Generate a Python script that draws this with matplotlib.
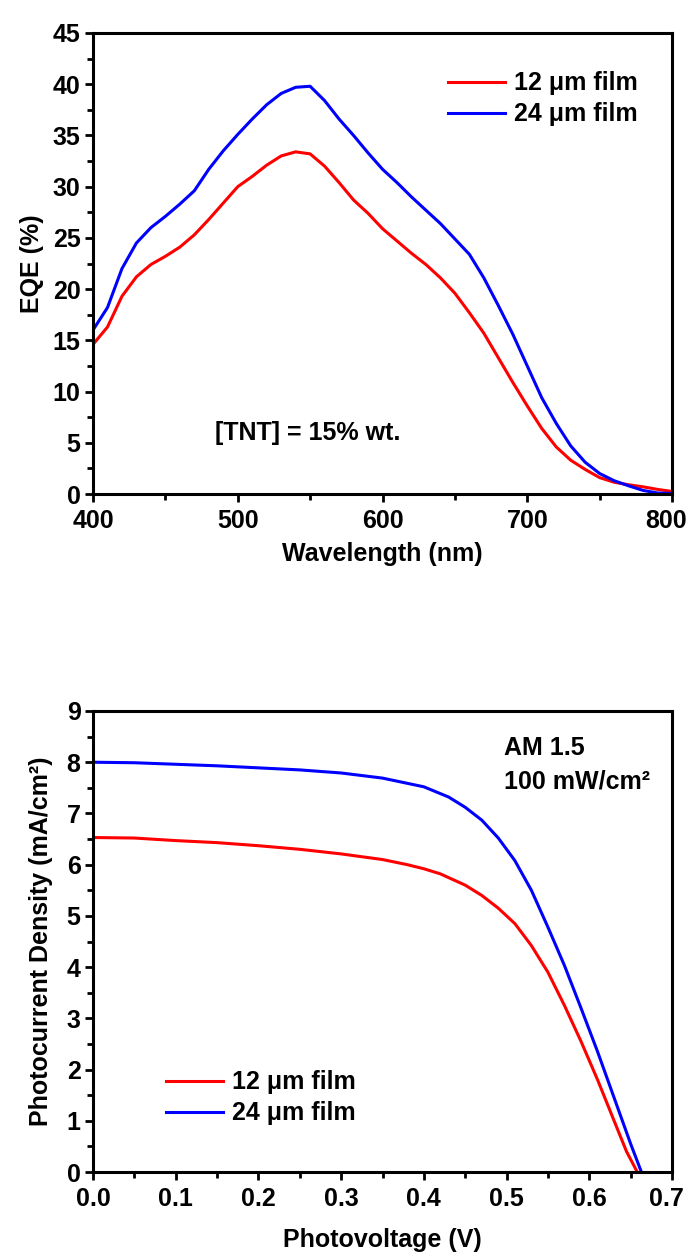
import matplotlib
matplotlib.use("Agg")
import matplotlib.pyplot as plt
from matplotlib.ticker import MultipleLocator
from matplotlib.transforms import ScaledTranslation

plt.rcParams['font.family'] = ['Liberation Sans', 'DejaVu Sans']
plt.rcParams['font.weight'] = 'bold'

# EQE spectra
wavelength = [400, 410, 420, 430, 440, 450, 460, 470, 480, 490, 500,
              510, 520, 530, 540, 550, 560, 570, 580, 590, 600,
              610, 620, 630, 640, 650, 660, 670, 680, 690, 700,
              710, 720, 730, 740, 750, 760, 770, 780, 790, 800]
eqe_12 = [14.6, 16.3, 19.3, 21.2, 22.4, 23.2, 24.1, 25.3, 26.8, 28.4, 30.0,
          31.0, 32.1, 33.0, 33.4, 33.2, 32.0, 30.4, 28.7, 27.4, 25.9,
          24.7, 23.5, 22.4, 21.1, 19.6, 17.7, 15.7, 13.3, 10.9, 8.6,
          6.4, 4.6, 3.3, 2.4, 1.6, 1.15, 0.9, 0.7, 0.45, 0.25]
eqe_24 = [16.0, 18.2, 22.0, 24.5, 26.0, 27.1, 28.3, 29.6, 31.7, 33.5, 35.1,
          36.6, 38.0, 39.1, 39.7, 39.8, 38.4, 36.6, 35.0, 33.3, 31.7,
          30.4, 29.0, 27.7, 26.4, 24.9, 23.4, 21.1, 18.4, 15.6, 12.5,
          9.4, 6.9, 4.7, 3.1, 2.0, 1.3, 0.8, 0.35, 0.1, 0.05]

# J-V curves
v_12 = [0.00, 0.05, 0.10, 0.15, 0.20, 0.25, 0.30, 0.35, 0.38, 0.40, 0.42,
        0.45, 0.47, 0.49, 0.51, 0.53, 0.55, 0.57, 0.59, 0.61, 0.63, 0.645, 0.658]
j_12 = [6.53, 6.52, 6.47, 6.43, 6.37, 6.30, 6.21, 6.10, 6.00, 5.92, 5.82,
        5.60, 5.40, 5.15, 4.85, 4.42, 3.90, 3.25, 2.55, 1.80, 1.00, 0.40, 0.0]
v_24 = [0.00, 0.05, 0.10, 0.15, 0.20, 0.25, 0.30, 0.35, 0.40, 0.43, 0.45,
        0.47, 0.49, 0.51, 0.53, 0.55, 0.57, 0.59, 0.61, 0.63, 0.65, 0.663]
j_24 = [8.00, 7.99, 7.96, 7.93, 7.89, 7.85, 7.79, 7.69, 7.52, 7.32, 7.12,
        6.87, 6.52, 6.08, 5.50, 4.78, 4.03, 3.20, 2.35, 1.45, 0.55, 0.0]

labels = ['12 \u03bcm film', '24 \u03bcm film']
colors = ['#ff0000', '#0000ff']
FS = 18

W, H = 689, 1254
fig = plt.figure(figsize=(W / 100, H / 100), dpi=100)
ax1 = fig.add_axes([93 / W, 1 - 494 / H, 579 / W, 461 / H])
ax2 = fig.add_axes([93 / W, 1 - 1172 / H, 579 / W, 461 / H])


def style(ax):
    for s in ax.spines.values():
        s.set_linewidth(2.2)
    ax.tick_params(which='both', direction='out', width=2.0, top=False,
                   right=False, labelsize=FS)
    ax.tick_params(axis='x', pad=5)
    ax.tick_params(axis='y', pad=3)
    ax.tick_params(which='major', length=6)
    ax.tick_params(which='minor', length=4)
    for t in ax.get_xticklabels() + ax.get_yticklabels():
        t.set_fontweight('bold')


def add_legend(ax, anchor):
    ax.legend(loc='center left', bbox_to_anchor=anchor, frameon=False,
              fontsize=FS, handlelength=2.3, handletextpad=0.35,
              labelspacing=0.28, borderpad=0, borderaxespad=0)


def nudge_last_xlabel(ax, dx_px=-5):
    # keep the right-most tick label inside the figure
    xmax = ax.get_xlim()[1]
    off = ScaledTranslation(dx_px / 100, 0, fig.dpi_scale_trans)
    for tick in ax.xaxis.get_major_ticks():
        if abs(tick.get_loc() - xmax) < 1e-9:
            tick.label1.set_transform(tick.label1.get_transform() + off)


ax1.plot(wavelength, eqe_12, color=colors[0], lw=2.2, label=labels[0])
ax1.plot(wavelength, eqe_24, color=colors[1], lw=2.2, label=labels[1])
ax1.set_xlim(400, 800)
ax1.set_ylim(0, 45)
ax1.xaxis.set_major_locator(MultipleLocator(100))
ax1.xaxis.set_minor_locator(MultipleLocator(50))
ax1.yaxis.set_major_locator(MultipleLocator(5))
ax1.yaxis.set_minor_locator(MultipleLocator(2.5))
style(ax1)
ax1.set_xlabel('Wavelength (nm)', fontsize=FS, fontweight='bold', labelpad=6)
ax1.set_ylabel('EQE (%)', fontsize=FS, fontweight='bold', labelpad=6)
add_legend(ax1, (0.613, 0.857))
ax1.text(484, 6.0, '[TNT] = 15% wt.', fontsize=FS, fontweight='bold',
         ha='left', va='center')

ax2.plot(v_12, j_12, color=colors[0], lw=2.2, label=labels[0])
ax2.plot(v_24, j_24, color=colors[1], lw=2.2, label=labels[1])
ax2.set_xlim(0, 0.7)
ax2.set_ylim(0, 9)
ax2.xaxis.set_major_locator(MultipleLocator(0.1))
ax2.xaxis.set_minor_locator(MultipleLocator(0.05))
ax2.yaxis.set_major_locator(MultipleLocator(1))
ax2.yaxis.set_minor_locator(MultipleLocator(0.5))
ax2.xaxis.set_major_formatter(plt.FormatStrFormatter('%.1f'))
ax2.yaxis.set_major_formatter(plt.FormatStrFormatter('%d'))
style(ax2)
ax2.set_xlabel('Photovoltage (V)', fontsize=FS, fontweight='bold', labelpad=12)
ax2.set_ylabel('Photocurrent Density (mA/cm\u00b2)', fontsize=FS,
               fontweight='bold', labelpad=10)
add_legend(ax2, (0.126, 0.161))
ax2.text(0.497, 8.27, 'AM 1.5', fontsize=FS, fontweight='bold',
         ha='left', va='center')
ax2.text(0.497, 7.62, '100 mW/cm\u00b2', fontsize=FS, fontweight='bold',
         ha='left', va='center')

fig.canvas.draw()
nudge_last_xlabel(ax1, -6)
nudge_last_xlabel(ax2, -6)

fig.savefig('out.png', dpi=100)
